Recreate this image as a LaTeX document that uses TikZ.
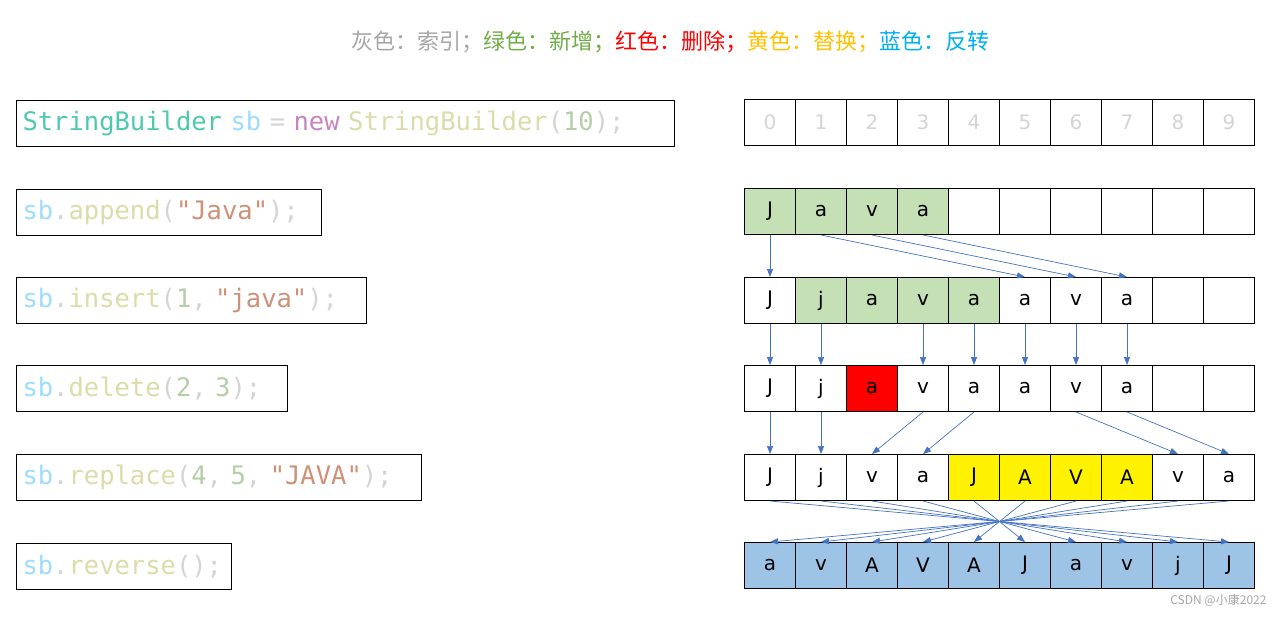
\documentclass[tikz,border=0pt]{standalone}
\usepackage{fontspec}
\setmainfont{DejaVu Sans}
\setmonofont{DejaVu Sans Mono}
\newfontfamily\cjk{Noto Sans CJK SC}
\usetikzlibrary{arrows.meta}
\definecolor{cls}{HTML}{4EC9B0}
\definecolor{var}{HTML}{9CDCFE}
\definecolor{kw}{HTML}{C586C0}
\definecolor{fn}{HTML}{DCDCAA}
\definecolor{num}{HTML}{B5CEA8}
\definecolor{str}{HTML}{CE9178}
\definecolor{pun}{HTML}{D4D4D4}
\definecolor{arr}{HTML}{4472C4}
\definecolor{cgreen}{HTML}{C5E0B4}
\definecolor{cblue}{HTML}{9DC3E6}
\definecolor{tgray}{HTML}{A6A6A6}
\definecolor{tgreen}{HTML}{70AD47}
\definecolor{tyellow}{HTML}{FFC000}
\definecolor{tblue}{HTML}{00B0F0}
\begin{document}
\begin{tikzpicture}[x=1pt,y=-1pt,
  codebox/.style={draw,line width=1pt,anchor=north west,minimum height=46pt,inner xsep=6pt,align=left,font=\ttfamily\fontsize{25.5}{26}\selectfont},
  cell/.style={draw,line width=1pt,minimum width=51pt,minimum height=46pt,anchor=north west,inner sep=0pt,font=\fontsize{20}{22}\selectfont},
  arw/.style={draw=arr,line width=0.7pt,-{Triangle[length=8pt,width=6pt]}}]
\useasboundingbox (0,0) rectangle (1284,618);
\node[font=\cjk\fontsize{22}{24}\selectfont] (title) at (670,42) {\textcolor{tgray}{灰色：索引；}\textcolor{tgreen}{绿色：新增；}\textcolor{red}{红色：删除；}\textcolor{tyellow}{黄色：替换；}\textcolor{tblue}{蓝色：反转}};
% code boxes
\node[codebox,text width=646pt] (k1) at (16,100) {\textcolor{cls}{StringBuilder} \textcolor{var}{sb} \textcolor{pun}{=} \textcolor{kw}{new} \textcolor{fn}{StringBuilder}\textcolor{pun}{(}\textcolor{num}{10}\textcolor{pun}{);}};
\node[codebox,text width=293pt] (k2) at (16,189) {\textcolor{var}{sb}\textcolor{pun}{.}\textcolor{fn}{append}\textcolor{pun}{(}\textcolor{str}{"Java"}\textcolor{pun}{);}};
\node[codebox,text width=338pt] (k3) at (16,277) {\textcolor{var}{sb}\textcolor{pun}{.}\textcolor{fn}{insert}\textcolor{pun}{(}\textcolor{num}{1}\textcolor{pun}{, }\textcolor{str}{"java"}\textcolor{pun}{);}};
\node[codebox,text width=259pt] (k4) at (16,365) {\textcolor{var}{sb}\textcolor{pun}{.}\textcolor{fn}{delete}\textcolor{pun}{(}\textcolor{num}{2}\textcolor{pun}{, }\textcolor{num}{3}\textcolor{pun}{);}};
\node[codebox,text width=393pt] (k5) at (16,454) {\textcolor{var}{sb}\textcolor{pun}{.}\textcolor{fn}{replace}\textcolor{pun}{(}\textcolor{num}{4}\textcolor{pun}{, }\textcolor{num}{5}\textcolor{pun}{, }\textcolor{str}{"JAVA"}\textcolor{pun}{);}};
\node[codebox,text width=203pt] (k6) at (16,543) {\textcolor{var}{sb}\textcolor{pun}{.}\textcolor{fn}{reverse}\textcolor{pun}{();}};
% cells
\foreach \i in {0,...,9} \node[cell,text=pun] (r1c\i) at (744+51*\i,99) {\i};
\foreach \t/\f [count=\i from 0] in {J/cgreen,a/cgreen,v/cgreen,a/cgreen,/white,/white,/white,/white,/white,/white}
  \node[cell,fill=\f] (r2c\i) at (744+51*\i,188) {\t};
\foreach \t/\f [count=\i from 0] in {J/white,j/cgreen,a/cgreen,v/cgreen,a/cgreen,a/white,v/white,a/white,/white,/white}
  \node[cell,fill=\f] (r3c\i) at (744+51*\i,277) {\t};
\foreach \t/\f [count=\i from 0] in {J/white,j/white,a/red,v/white,a/white,a/white,v/white,a/white,/white,/white}
  \node[cell,fill=\f] (r4c\i) at (744+51*\i,365) {\t};
\foreach \t/\f [count=\i from 0] in {J/white,j/white,v/white,a/white,J/yellow,A/yellow,V/yellow,A/yellow,v/white,a/white}
  \node[cell,fill=\f] (r5c\i) at (744+51*\i,454) {\t};
\foreach \t/\f [count=\i from 0] in {a/cblue,v/cblue,A/cblue,V/cblue,A/cblue,J/cblue,a/cblue,v/cblue,j/cblue,J/cblue}
  \node[cell,fill=\f] (r6c\i) at (744+51*\i,542) {\t};
\node[anchor=east,text=tgray,font=\cjk\fontsize{12}{14}\selectfont] (wm) at (1270,600) {CSDN @小康2022};
% arrows
\foreach \a/\b in {0/0,1/5,2/6,3/7} \draw[arw] (r2c\a.south) -- (r3c\b.north);
\foreach \a/\b in {0/0,1/1,3/3,4/4,5/5,6/6,7/7} \draw[arw] (r3c\a.south) -- (r4c\b.north);
\foreach \a/\b in {0/0,1/1,3/2,4/3,6/8,7/9} \draw[arw] (r4c\a.south) -- (r5c\b.north);
\foreach \a in {0,...,9} {\pgfmathtruncatemacro\b{9-\a}\draw[arw] (r5c\a.south) -- (r6c\b.north);}
\end{tikzpicture}
\end{document}
